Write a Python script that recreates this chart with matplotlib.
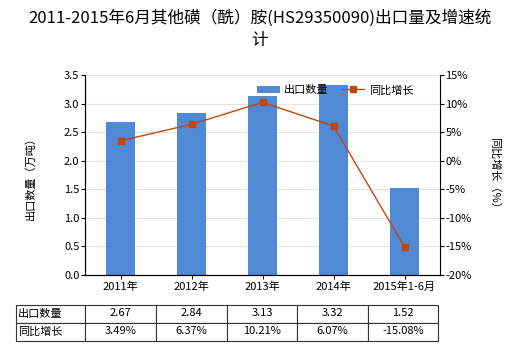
import matplotlib
matplotlib.use("Agg")
import matplotlib.pyplot as plt
import numpy as np

plt.rcParams['font.family'] = ['Noto Sans CJK SC', 'DejaVu Sans']

categories = ["2011年", "2012年", "2013年", "2014年", "2015年1-6月"]
export_qty = [2.67, 2.84, 3.13, 3.32, 1.52]
growth = [3.49, 6.37, 10.21, 6.07, -15.08]
qty_labels = ["2.67", "2.84", "3.13", "3.32", "1.52"]
growth_labels = ["3.49%", "6.37%", "10.21%", "6.07%", "-15.08%"]
row_names = ["出口数量", "同比增长"]

bar_color = "#5089D6"
line_color = "#C0480E"

fig = plt.figure(figsize=(5.2, 3.5), dpi=100)
ax = fig.add_axes([85/520, 1-275/350, 355/520, 200/350])
x = np.arange(len(categories))
bars = ax.bar(x, export_qty, width=0.41, color=bar_color, label="出口数量", zorder=2)
ax.set_xlim(-0.5, len(categories)-0.5)
ax.set_ylim(0, 3.5)
ax.set_yticks(np.arange(0, 3.51, 0.5))
ax.set_yticklabels([f"{v:.1f}" for v in np.arange(0, 3.51, 0.5)], fontsize=8)
ax.set_xticks(x)
ax.set_xticklabels(categories, fontsize=8)
ax.tick_params(axis='x', length=3, pad=2)
ax.tick_params(axis='y', length=3, pad=1)
ax.grid(axis='y', color='#E6E6DC', linewidth=0.8, zorder=0)
ax.set_axisbelow(True)
ax.spines['top'].set_visible(False)
ax.spines['right'].set_visible(False)
ax.set_ylabel("出口数量（万吨）", fontsize=8, labelpad=20)

ax2 = ax.twinx()
line, = ax2.plot(x, growth, color=line_color, linewidth=1, marker='s', markersize=5, label="同比增长", zorder=3)
ax2.set_ylim(-20, 15)
ticks2 = np.arange(-20, 16, 5)
ax2.set_yticks(ticks2)
ax2.set_yticklabels([f"{int(v)}%" for v in ticks2], fontsize=8)
ax2.tick_params(axis='y', length=3, pad=1)
ax2.spines['top'].set_visible(False)
ax2.set_ylabel("同比增长（%）", fontsize=8, rotation=270, labelpad=20)

leg = ax2.legend([bars, line], ["出口数量", "同比增长"], loc='upper center',
                 bbox_to_anchor=(0.705, 1.0), ncol=2, frameon=False, fontsize=8,
                 handlelength=2.0, columnspacing=1.2, handletextpad=0.4)

fig.text(0.5, 1-18/350, "2011-2015年6月其他磺（酰）胺(HS29350090)出口量及增速统", ha='center', va='center', fontsize=12)
fig.text(0.5, 1-40/350, "计", ha='center', va='center', fontsize=12)

# table
cell_text = [[row_names[0]] + qty_labels, [row_names[1]] + growth_labels]
x0 = (15.5-85)/355
w = (438.5-15.5)/355
y0 = (275-340.5)/200
h = (340.5-304.5)/200
tab = ax.table(cellText=cell_text, bbox=[x0, y0, w, h], cellLoc='center')
tab.auto_set_font_size(False)
tab.set_fontsize(8)
colw = [70] + [70.6]*5
tot = sum(colw)
for (r, c), cell in tab.get_celld().items():
    cell.set_width(colw[c]/tot * w)
    cell.set_edgecolor('#333333')
    cell.set_linewidth(0.8)
    if c == 0:
        cell.set_text_props(ha='left')
        cell.PAD = 0.03

fig.savefig("out.png", dpi=100)
